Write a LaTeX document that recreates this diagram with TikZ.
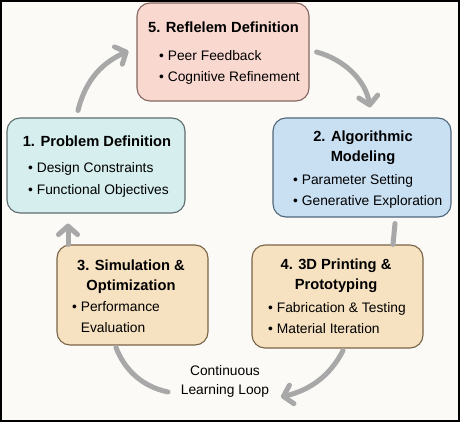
\documentclass[tikz,border=0pt]{standalone}
\usepackage{fontspec}
\setmainfont{Liberation Sans}
\usetikzlibrary{arrows.meta}
\definecolor{bgcol}{HTML}{FBFAF6}
\definecolor{pinkbox}{HTML}{F8D8CF}
\definecolor{cyanbox}{HTML}{D6EEEE}
\definecolor{bluebox}{HTML}{C9E0F3}
\definecolor{tanbox}{HTML}{F6E1C0}
\definecolor{pinkedge}{HTML}{86665E}
\definecolor{cyanedge}{HTML}{5E6E6E}
\definecolor{blueedge}{HTML}{50667A}
\definecolor{tanedge}{HTML}{7A6448}
\definecolor{loopgray}{HTML}{A8A8A8}
\begin{document}
\begin{tikzpicture}[x=1pt,y=-1pt,
    stage/.style={rectangle, rounded corners=13pt, line width=1.1pt, inner sep=0pt},
    head/.style={font=\fontsize{14.7}{20}\selectfont\bfseries, align=center, anchor=base, inner sep=0pt},
    items/.style={font=\fontsize{13.8}{21}\selectfont, align=left, anchor=base west, inner sep=0pt},
    loop/.style={draw=loopgray, line width=5pt, line cap=round},
    tip/.style={-{Straight Barb[round, length=8.5pt, width=19pt]}}]
  \useasboundingbox (0,0) rectangle (460,422);
  \path[fill=bgcol, draw=black, line width=2pt] (1,1) rectangle (459,421);
  % the five stages
  \foreach \name/\x/\y/\w/\h/\col/\edge in {refl/223/52/172/98/pinkbox/pinkedge, prob/96/165.5/178/95/cyanbox/cyanedge, algo/362/167.5/178/99/bluebox/blueedge, sim/132.5/295/151/100/tanbox/tanedge, print/337.5/296.5/171/103/tanbox/tanedge}
    \node[stage, fill=\col, draw=\edge, minimum width=\w pt, minimum height=\h pt] (\name) at (\x,\y) {};
  % node base = baseline of the last line
  \node[head] (reflT) at (223.5,33) {5. Reflelem Definition};
  \node[items] (reflL) at (159,82) {• Peer Feedback\\• Cognitive Refinement};
  \node[head] (probT) at (97,147) {1. Problem Definition};
  \node[items] (probL) at (28,194) {• Design Constraints\\• Functional Objectives};
  \node[head] (algoT) at (363,162) {2. Algorithmic\\Modeling};
  \node[items] (algoL) at (293,205) {• Parameter Setting\\• Generative Exploration};
  \node[head] (simT) at (131,290) {3. Simulation \&\\Optimization};
  \node[items] (simL) at (72,332) {• Performance\\\phantom{• }Evaluation};
  \node[head] (printT) at (336,289) {4. 3D Printing \&\\Prototyping};
  \node[items] (printL) at (268,333) {• Fabrication \& Testing\\• Material Iteration};
  \node[font=\fontsize{13.8}{19}\selectfont, align=center, anchor=base, inner sep=0pt] (loopT) at (225,394) {Continuous\\Learning Loop};
  % loop around the stages
  \coordinate (loopEnd) at (281,397);
  \coordinate (loopStart) at (168,392);
  \draw[loop, tip] ([shift={(-18,-7)}]prob.north) .. controls (86,78) and (104,62) .. ([shift={(-8,-1)}]refl.west);
  \draw[loop, tip] ([shift={(7,0)}]refl.east) .. controls (346,60) and (366,82) .. ([shift={(8,-10)}]algo.north);
  \draw[loop] ([shift={(33,6)}]algo.south) -- ([shift={(55.5,0)}]print.north);
  \draw[loop, tip] ([shift={(5.5,2)}]print.south) .. controls (330,376) and (310,390) .. (loopEnd);
  \draw[loop] (loopStart) .. controls (140,386) and (124,368) .. ([shift={(-16.5,2)}]sim.south);
  \draw[loop, tip] ([shift={(-64.5,0)}]sim.north) -- ([shift={(-28,10)}]prob.south);
\end{tikzpicture}
\end{document}
